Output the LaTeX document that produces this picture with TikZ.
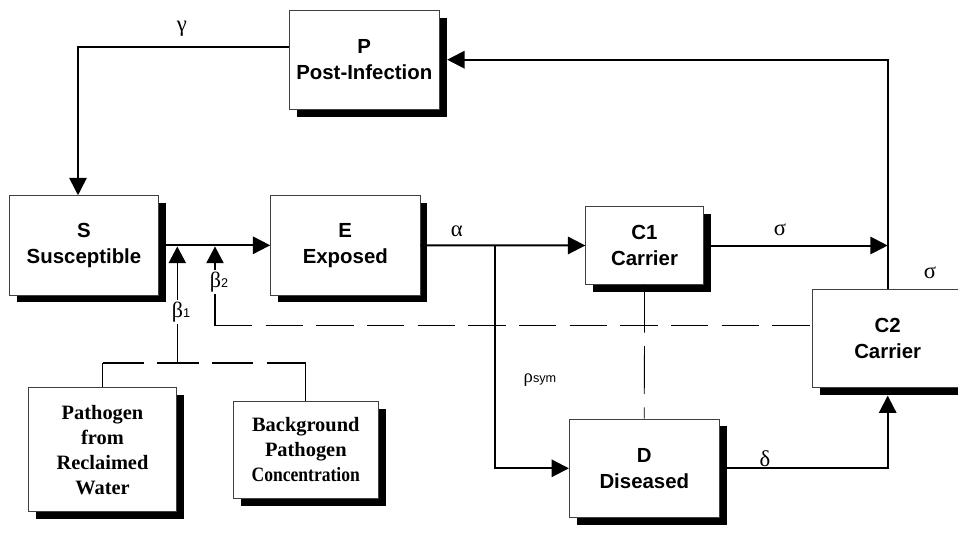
\documentclass[tikz,border=0pt]{standalone}
\usepackage{fontspec}
\setmainfont{Liberation Serif}
\setsansfont{Liberation Sans}
\usetikzlibrary{arrows.meta,shadows,calc}
\begin{document}
\begin{tikzpicture}[x=0.75pt,y=-0.75pt,
  box/.style={draw=black!75, line width=0.6pt, fill=white, inner sep=0pt,
    general shadow={fill=black, shadow xshift=5.6pt, shadow yshift=-5.6pt}, align=center},
  sbox/.style={box, font=\sffamily\bfseries\fontsize{15.3}{19.5}\selectfont},
  rbox/.style={box, font=\bfseries\fontsize{15.3}{18.8}\selectfont},
  flow/.style={line width=1.5pt, -{Triangle[length=13pt,width=13pt]}},
  thinarrow/.style={line width=0.8pt, -{Triangle[length=12.5pt,width=13pt]}},
  thinline/.style={line width=0.8pt},
  dashline/.style={line width=0.8pt, dash pattern=on 28pt off 10pt},
  vdash/.style={line width=0.6pt, dash pattern=on 36pt off 10pt},
  glabel/.style={font=\fontsize{17}{17}\selectfont, inner sep=1pt},
  blabel/.style={font=\fontsize{16.5}{16.5}\selectfont, inner sep=1.5pt, fill=white},
]
\useasboundingbox (0,0) rectangle (958,533);

% boxes
\node[sbox, minimum width=112.5pt, minimum height=74pt] (P) at (364.3,59.7) {P\\Post-Infection};
\node[sbox, minimum width=112pt, minimum height=74.5pt] (S) at (84,245.3) {S\\Susceptible};
\node[sbox, minimum width=112pt, minimum height=74.5pt] (E) at (345.3,245.3) {E\\Exposed};
\node[sbox, minimum width=88.2pt, minimum height=58.2pt] (C1) at (644.5,245.5) {C1\\Carrier};
\node[sbox, minimum width=112.5pt, minimum height=74pt] (D) at (644.3,468.3) {D\\Diseased};
\node[sbox, minimum width=112.5pt, minimum height=73.8pt] (C2) at (887.7,338.5) {C2\\Carrier};
\node[rbox, minimum width=111.3pt, minimum height=93pt] (Path) at (102.5,449.7) {Pathogen\\from\\Reclaimed\\Water};
\node[rbox, minimum width=108.75pt, minimum height=73pt] (Back) at (305.8,449.7) {Background\\Pathogen\\\scalebox{0.86}[1]{Concentration}};

% gamma loop
\coordinate (g1) at (78,47);
\draw[flow, line width=1.2pt] (P.west |- g1) -- (g1) -- (S.north -| g1);
\node[glabel] (lg) at (182,29) {γ};

% S -> E
\draw[flow] (S.east) -- (E.west);

% beta inputs
\coordinate (b1) at (177.3,363);
\coordinate (b2) at (215,325.7);
\draw[thinarrow] (b1) -- ($(b1 |- S.east)+(0,1.2)$);
\draw[thinarrow] (b2) -- ($(b2 |- S.east)+(0,1.2)$);
\draw[dashline] (b2) -- (b2 -| C2.west);
\draw[thinline] (Path.north) -- (Path.north |- b1);
\draw[thinline] (Back.north) -- (Back.north |- b1);
\draw[line width=0.8pt, dash pattern=on 31pt off 10pt] (Path.north |- b1) -- (Back.north |- b1);
\node[blabel] (lb1) at (181,311.7) {β{\sffamily\fontsize{9.5}{9.5}\selectfont 1}};
\node[blabel] (lb2) at (219,281.7) {β{\sffamily\fontsize{9.5}{9.5}\selectfont 2}};

% alpha
\draw[flow] (E.east) -- (C1.west);
\node[glabel] (la) at (456.7,231.7) {α};
\coordinate (br) at (495,245.3);
\draw[flow] (br) |- (D.west);
\node[inner sep=1pt] (lr) at (540,380) {{\fontsize{14}{14}\selectfont ρ}{\sffamily\fontsize{9.5}{9.5}\selectfont sym}};

% sigma
\draw[flow] (C1.east) -- (C1.east -| C2.north);
\node[glabel] (ls1) at (780,230) {σ};
\draw[flow] (C2.north) |- ([xshift=5.6pt]P.east);
\node[glabel] (ls2) at (930,273.3) {σ};

% delta
\draw[flow] (D.east) -| ([yshift=-5.6pt]C2.south);
\node[glabel] (ld) at (765,458.3) {δ};

% C1 - D link
\draw[vdash] (C1.south) -- (D.north);
\end{tikzpicture}
\end{document}
